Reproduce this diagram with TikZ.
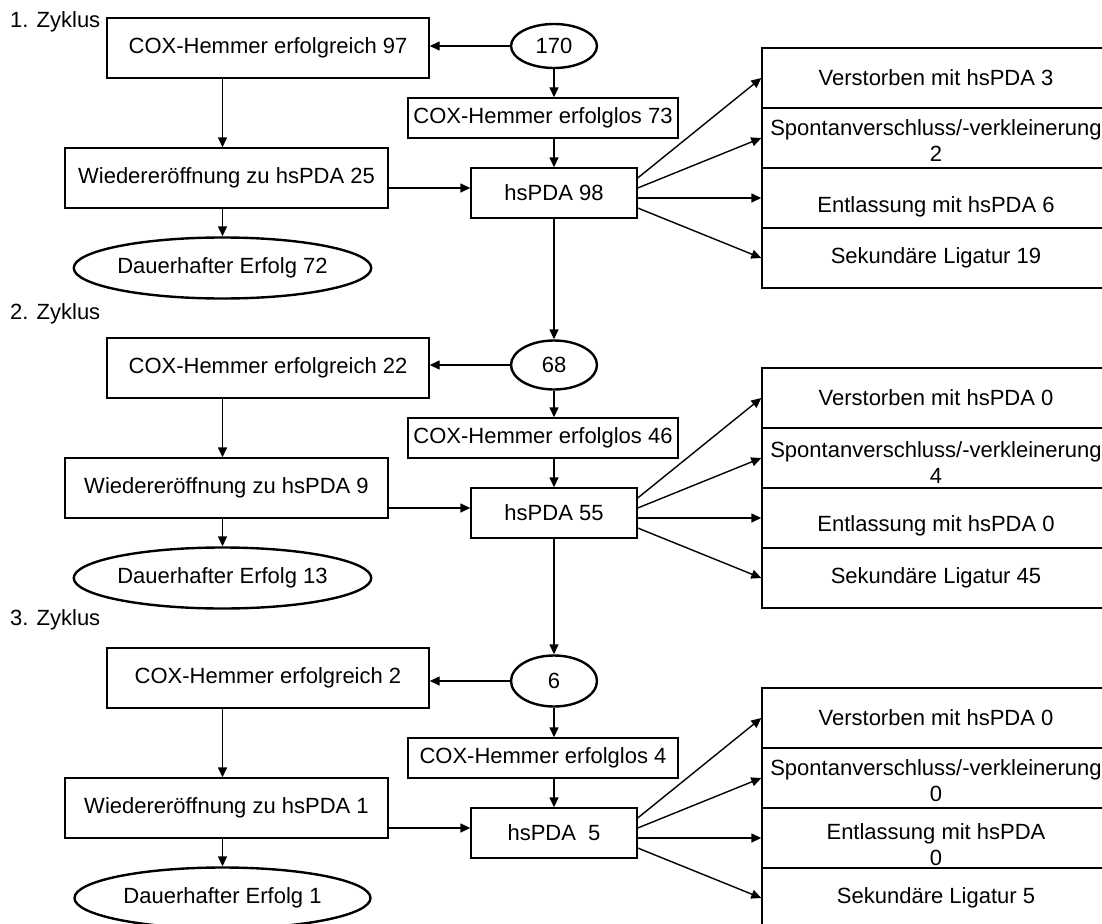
\documentclass[tikz,border=0pt]{standalone}
\usepackage{fontspec}
\setmainfont{Liberation Sans}
\usetikzlibrary{arrows.meta,shapes.geometric,calc}
\tikzset{
  base/.style={font=\fontsize{22}{26}\selectfont, inner sep=0pt, align=center},
  box/.style={base, draw, line width=1.4pt, rectangle},
  oval/.style={base, draw, line width=2.4pt, ellipse},
  txt/.style={base},
  arr/.style={line width=1.4pt, -{Triangle[length=10pt,width=9pt]}},
}
\begin{document}
\begin{tikzpicture}[x=1pt,y=-1pt]
\useasboundingbox (0,0) rectangle (1102,923);
\fill[white] (0,0) rectangle (1102,923);
\clip (0,0) rectangle (1102,923);

% ---------- labels ----------
\node[txt, anchor=west] (z1) at (10,22) {1. Zyklus};
\node[txt, anchor=west] (z2) at (10,314) {2. Zyklus};
\node[txt, anchor=west] (z3) at (10,620) {3. Zyklus};

% ---------- cycle 1 ----------
\node[box, minimum width=322, minimum height=60] (ok1) at (268,48) {COX-Hemmer erfolgreich 97};
\node[oval, minimum width=86, minimum height=44] (e1) at (554,46) {170};
\node[box, minimum width=270, minimum height=40] (f1) at (543,118) {COX-Hemmer erfolglos 73};
\node[box, minimum width=166, minimum height=50] (h1) at (554,193) {hsPDA 98};
\node[box, minimum width=323, minimum height=60] (w1) at (226.5,178) {Wiedereröffnung zu hsPDA 25};
\node[oval, minimum width=296, minimum height=61] (d1) at (222.5,268) {Dauerhafter Erfolg 72};

\node[box, minimum width=348, minimum height=60] (r1a) at (936,78) {Verstorben mit hsPDA 3};
\node[box, minimum width=348, minimum height=60] (r1b) at (936,138) {};
\node[txt] (t1b) at (936,141) {Spontanverschluss/-verkleinerung\\2};
\node[box, minimum width=348, minimum height=60] (r1c) at (936,198) {};
\node[txt] (t1c) at (936,207) {Entlassung mit hsPDA 6};
\node[box, minimum width=348, minimum height=60] (r1d) at (936,258) {Sekundäre Ligatur 19};

\draw[arr] (e1.west) -- (e1.west -| ok1.east);
\draw[arr] (e1.south) -- (e1.south |- f1.north);
\draw[arr] (e1.south |- f1.south) -- (h1.north);
\draw[arr] (d1.north |- ok1.south) -- (d1.north |- w1.north);
\draw[arr] (d1.north |- w1.south) -- (d1.north);
\coordinate (h1in) at ($(h1.west)+(0,-5)$);
\draw[arr] (w1.east |- h1in) -- (h1in);
\draw[arr] ($(h1.east)+(0,-15)$) -- (r1a.west);
\draw[arr] ($(h1.east)+(0,-5)$) -- (r1b.west);
\draw[arr] ($(h1.east)+(0,5)$) -- (r1c.west);
\draw[arr] ($(h1.east)+(0,15)$) -- (r1d.west);

% ---------- cycle 2 ----------
\node[box, minimum width=322, minimum height=60] (ok2) at (268,368) {COX-Hemmer erfolgreich 22};
\node[oval, minimum width=86, minimum height=49] (e2) at (554,365) {68};
\node[box, minimum width=270, minimum height=40] (f2) at (543,438) {COX-Hemmer erfolglos 46};
\node[box, minimum width=166, minimum height=50] (h2) at (554,513) {hsPDA 55};
\node[box, minimum width=323, minimum height=60] (w2) at (226.5,488) {Wiedereröffnung zu hsPDA 9};
\node[oval, minimum width=296, minimum height=61] (d2) at (222.5,578) {Dauerhafter Erfolg 13};

\node[box, minimum width=348, minimum height=60] (r2a) at (936,398) {Verstorben mit hsPDA 0};
\node[box, minimum width=348, minimum height=60] (r2b) at (936,458) {};
\node[txt] (t2b) at (936,463) {Spontanverschluss/-verkleinerung\\4};
\node[box, minimum width=348, minimum height=60] (r2c) at (936,518) {};
\node[txt] (t2c) at (936,526) {Entlassung mit hsPDA 0};
\node[box, minimum width=348, minimum height=60] (r2d) at (936,578) {Sekundäre Ligatur 45};

\draw[arr] (h1.south) -- (e2.north);
\draw[arr] (e2.west) -- (e2.west -| ok2.east);
\draw[arr] (e2.south) -- (e2.south |- f2.north);
\draw[arr] (e2.south |- f2.south) -- (h2.north);
\draw[arr] (d2.north |- ok2.south) -- (d2.north |- w2.north);
\draw[arr] (d2.north |- w2.south) -- (d2.north);
\coordinate (h2in) at ($(h2.west)+(0,-5)$);
\draw[arr] (w2.east |- h2in) -- (h2in);
\draw[arr] ($(h2.east)+(0,-15)$) -- (r2a.west);
\draw[arr] ($(h2.east)+(0,-5)$) -- (r2b.west);
\draw[arr] ($(h2.east)+(0,5)$) -- (r2c.west);
\draw[arr] ($(h2.east)+(0,15)$) -- (r2d.west);

% ---------- cycle 3 ----------
\node[box, minimum width=322, minimum height=60] (ok3) at (268,678) {COX-Hemmer erfolgreich 2};
\node[oval, minimum width=86, minimum height=51] (e3) at (554,681) {6};
\node[box, minimum width=270, minimum height=40] (f3) at (543,758) {COX-Hemmer erfolglos 4};
\node[box, minimum width=166, minimum height=50] (h3) at (554,833) {hsPDA\ \ 5};
\node[box, minimum width=323, minimum height=60] (w3) at (226.5,808) {Wiedereröffnung zu hsPDA 1};
\node[oval, minimum width=296, minimum height=61] (d3) at (222.5,898) {Dauerhafter Erfolg 1};

\node[box, minimum width=348, minimum height=60] (r3a) at (936,718) {Verstorben mit hsPDA 0};
\node[box, minimum width=348, minimum height=60] (r3b) at (936,778) {};
\node[txt] (t3b) at (936,781) {Spontanverschluss/-verkleinerung\\0};
\node[box, minimum width=348, minimum height=60] (r3c) at (936,838) {};
\node[txt] (t3c) at (936,845) {Entlassung mit hsPDA\\0};
\node[box, minimum width=348, minimum height=60] (r3d) at (936,898) {Sekundäre Ligatur 5};

\draw[arr] (h2.south) -- (e3.north);
\draw[arr] (e3.west) -- (e3.west -| ok3.east);
\draw[arr] (e3.south) -- (e3.south |- f3.north);
\draw[arr] (e3.south |- f3.south) -- (h3.north);
\draw[arr] (d3.north |- ok3.south) -- (d3.north |- w3.north);
\draw[arr] (d3.north |- w3.south) -- (d3.north);
\coordinate (h3in) at ($(h3.west)+(0,-5)$);
\draw[arr] (w3.east |- h3in) -- (h3in);
\draw[arr] ($(h3.east)+(0,-15)$) -- (r3a.west);
\draw[arr] ($(h3.east)+(0,-5)$) -- (r3b.west);
\draw[arr] ($(h3.east)+(0,5)$) -- (r3c.west);
\draw[arr] ($(h3.east)+(0,15)$) -- (r3d.west);
\end{tikzpicture}
\end{document}
